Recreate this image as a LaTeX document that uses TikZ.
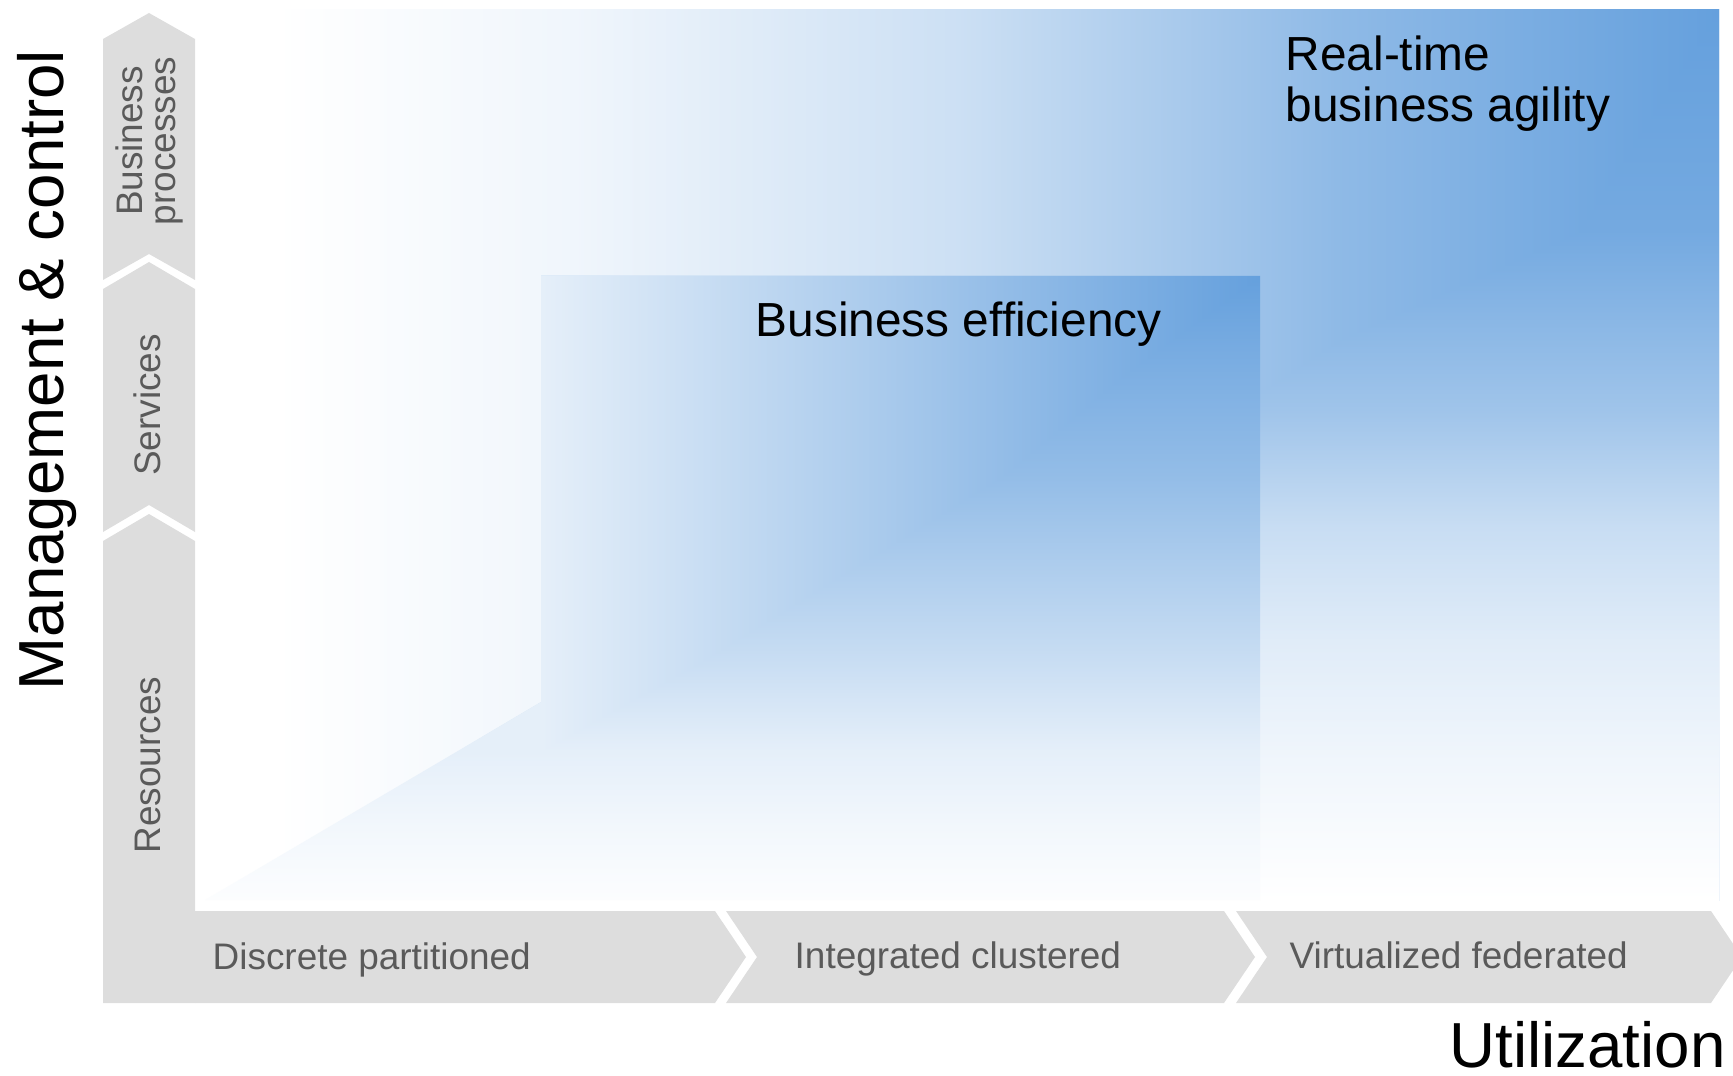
\documentclass[tikz,border=0pt]{standalone}
\usepackage{fontspec}
\setmainfont{Liberation Sans}
\definecolor{bargray}{RGB}{221,221,221}
\definecolor{labelgray}{RGB}{90,90,90}
\definecolor{wallblue}{RGB}{101,160,221}
\pgfdeclarehorizontalshading{outerhshade}{100bp}{color(0bp)=(white); color(27.5bp)=(white); color(37.5bp)=(wallblue!10!white); color(50bp)=(wallblue!33!white); color(62.5bp)=(wallblue!73!white); color(75bp)=(wallblue); color(100bp)=(wallblue)}
\pgfdeclareverticalshading{outervshade}{100bp}{color(0bp)=(white); color(25bp)=(white); color(33bp)=(wallblue!10!white); color(39.5bp)=(wallblue!20!white); color(46bp)=(wallblue!36!white); color(52.5bp)=(wallblue!62!white); color(62.5bp)=(wallblue!90!white); color(75bp)=(wallblue); color(100bp)=(wallblue)}
\pgfdeclarehorizontalshading{innerhshade}{100bp}{color(0bp)=(wallblue!17!white); color(41bp)=(wallblue!17!white); color(58bp)=(wallblue!58!white); color(75bp)=(wallblue); color(100bp)=(wallblue)}
\pgfdeclareverticalshading{innervshade}{100bp}{color(0bp)=(wallblue!2!white); color(25bp)=(wallblue!2!white); color(30.5bp)=(wallblue!8!white); color(37bp)=(wallblue!17!white); color(44bp)=(wallblue!35!white); color(50.5bp)=(wallblue!50!white); color(59bp)=(wallblue!70!white); color(67bp)=(wallblue!84!white); color(75bp)=(wallblue); color(100bp)=(wallblue)}
\begin{document}
\begin{tikzpicture}[x=0.01cm, y=-0.01cm,
  bar/.style={fill=bargray},
  barlabel/.style={text=labelgray, font=\fontsize{10.5}{9.4}\selectfont, inner sep=0pt},
  walllabel/.style={font=\fontsize{13.6}{14.5}\selectfont, inner sep=0pt, align=left},
  axislabel/.style={font=\fontsize{18.1}{20}\selectfont, inner sep=0pt}]
  \useasboundingbox (0,0) rectangle (1733,1076);
  \clip (0,0) rectangle (1733,1076);

  \shade [shading=outervshade] (199,10) rectangle (1719,900);
  \shade [shading=outerhshade, blend mode=lighten] (199,10) rectangle (1719,900);
  \shade [shading=innervshade] (541,276) -- (1260,276) -- (1260,900) -- (205,900) -- (541,702) -- cycle;
  \shade [shading=innerhshade, blend mode=lighten] (541,276) -- (1260,276) -- (1260,900) -- (205,900) -- (541,702) -- cycle;

  \fill [bar] (103,39) -- (149,13) -- (195,39) -- (195,280) -- (149,254) -- (103,280) -- cycle;
  \fill [bar] (103,289) -- (149,262) -- (195,289) -- (195,532) -- (149,505) -- (103,532) -- cycle;
  \fill [bar] (103,541) -- (149,514) -- (195,541) -- (195,1003) -- (103,1003) -- cycle;
  \fill [bar] (195,911) -- (715,911) -- (746,957) -- (715,1003) -- (195,1003) -- cycle;
  \fill [bar] (726,911) -- (1224,911) -- (1255,957) -- (1224,1003) -- (726,1003) -- (757,957) -- cycle;
  \fill [bar] (1236,911) -- (1711,911) -- (1742,957) -- (1711,1003) -- (1236,1003) -- (1267,957) -- cycle;

  \node [barlabel, rotate=90, align=center] (processes) at (149,141) {Business\\processes};
  \node [barlabel, rotate=90, anchor=base] (services) at (160,405) {Services};
  \node [barlabel, rotate=90, anchor=base] (resources) at (160,765) {Resources};
  \node [barlabel, anchor=base west] (discrete) at (212,969) {Discrete partitioned};
  \node [barlabel, anchor=base west] (integrated) at (794,968) {Integrated clustered};
  \node [barlabel, anchor=base west] (virtualized) at (1289,968) {Virtualized federated};

  \node [walllabel, anchor=north west] (agility) at (1285,35) {Real-time\\business agility};
  \node [walllabel, anchor=base west] (efficiency) at (755,337) {Business efficiency};

  \node [axislabel, rotate=90, anchor=base west] (management) at (64,691) {Management \& control};
  \node [axislabel, anchor=base west] (utilization) at (1449,1067) {Utilization};
\end{tikzpicture}
\end{document}
